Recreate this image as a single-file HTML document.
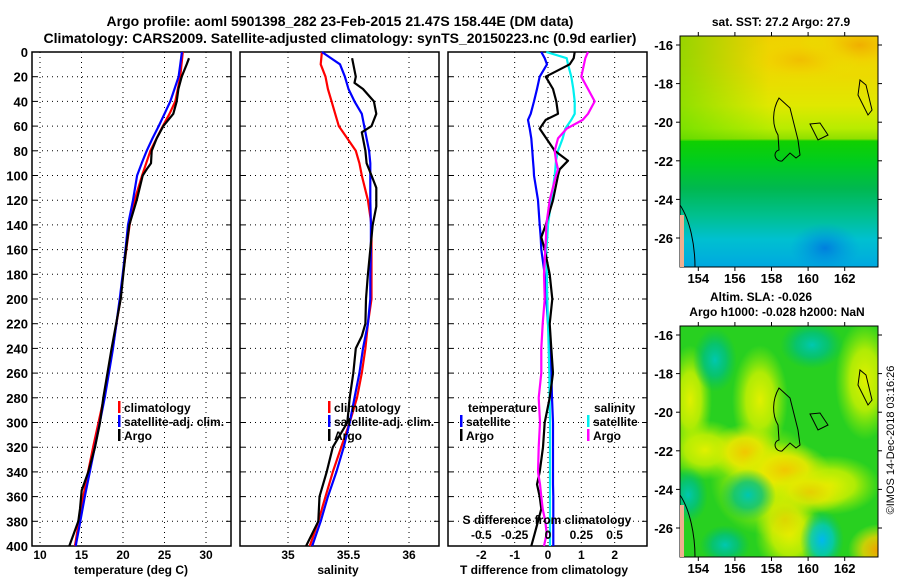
<!DOCTYPE html>
<html><head><meta charset="utf-8"><style>
html,body{margin:0;padding:0;background:#fff;}
svg{display:block;font-family:"Liberation Sans",sans-serif;font-weight:bold;}
</style></head><body>
<svg id="chart" width="900" height="580" viewBox="0 0 900 580" xmlns="http://www.w3.org/2000/svg">
<defs>
<clipPath id="clipTop"><rect x="680" y="36" width="198" height="231"/></clipPath>
<clipPath id="clipBot"><rect x="680" y="326" width="198" height="231"/></clipPath>
<linearGradient id="sstV" x1="0" y1="0" x2="0" y2="1">
<stop offset="0" stop-color="#f0d000"/><stop offset="0.12" stop-color="#f0d400"/>
<stop offset="0.3" stop-color="#e0e800"/><stop offset="0.4" stop-color="#b8ec00"/>
<stop offset="0.445" stop-color="#90e000"/><stop offset="0.455" stop-color="#10d000"/>
<stop offset="0.55" stop-color="#00cc20"/><stop offset="0.66" stop-color="#00b850"/>
<stop offset="0.78" stop-color="#00c090"/><stop offset="0.88" stop-color="#00c0d0"/>
<stop offset="1" stop-color="#00a8e0"/></linearGradient>
<linearGradient id="sstH" x1="0" y1="0" x2="1" y2="0">
<stop offset="0" stop-color="#40d800" stop-opacity="0.5"/><stop offset="0.45" stop-color="#40d800" stop-opacity="0"/></linearGradient>
<radialGradient id="gY"><stop offset="0" stop-color="#f0c800"/><stop offset="0.5" stop-color="#e8e800" stop-opacity="0.9"/><stop offset="1" stop-color="#c8f000" stop-opacity="0"/></radialGradient>
<radialGradient id="gL"><stop offset="0" stop-color="#e0f000"/><stop offset="0.5" stop-color="#c8f000" stop-opacity="0.85"/><stop offset="1" stop-color="#a0f000" stop-opacity="0"/></radialGradient>
<radialGradient id="gC"><stop offset="0" stop-color="#00c8b0"/><stop offset="0.5" stop-color="#00c080" stop-opacity="0.8"/><stop offset="1" stop-color="#00c060" stop-opacity="0"/></radialGradient>
<radialGradient id="gB"><stop offset="0" stop-color="#00b8f0"/><stop offset="0.5" stop-color="#00c8c0" stop-opacity="0.8"/><stop offset="1" stop-color="#00c070" stop-opacity="0"/></radialGradient>
<radialGradient id="gO"><stop offset="0" stop-color="#f0a000"/><stop offset="0.5" stop-color="#f0d000" stop-opacity="0.8"/><stop offset="1" stop-color="#e0f000" stop-opacity="0"/></radialGradient>
<radialGradient id="gSB"><stop offset="0" stop-color="#0070e0"/><stop offset="1" stop-color="#0090e0" stop-opacity="0"/></radialGradient>
</defs>

<text x="340" y="26" font-size="14" text-anchor="middle">Argo profile: aoml 5901398_282 23-Feb-2015 21.47S 158.44E (DM data)</text>
<text x="340" y="43" font-size="14" text-anchor="middle">Climatology: CARS2009. Satellite-adjusted climatology: synTS_20150223.nc (0.9d earlier)</text>

<g id="panels"></g>

<text x="781" y="26" font-size="12" text-anchor="middle">sat. SST: 27.2 Argo: 27.9</text>
<g clip-path="url(#clipTop)">
<rect x="680" y="36" width="198" height="231" fill="url(#sstV)"/>
<rect x="680" y="36" width="198" height="105" fill="url(#sstH)"/>
<ellipse cx="860" cy="45" rx="60" ry="30" fill="url(#gO)" opacity="0.7"/>
<ellipse cx="800" cy="60" rx="60" ry="25" fill="url(#gO)" opacity="0.4"/>
<ellipse cx="825" cy="248" rx="35" ry="25" fill="url(#gSB)" opacity="0.8"/>
</g>
<rect x="680" y="36" width="198" height="231" fill="none" stroke="#000" stroke-width="1"/>

<text x="761" y="301" font-size="12" text-anchor="middle">Altim. SLA: -0.026</text>
<text x="777" y="316" font-size="12" text-anchor="middle">Argo h1000: -0.028 h2000: NaN</text>
<g clip-path="url(#clipBot)">
<rect x="680" y="326" width="198" height="231" fill="#28d020"/>
<ellipse cx="690" cy="400" rx="22" ry="55" fill="url(#gL)"/>
<ellipse cx="760" cy="400" rx="28" ry="55" fill="url(#gL)"/>
<ellipse cx="865" cy="380" rx="30" ry="60" fill="url(#gL)"/>
<ellipse cx="705" cy="450" rx="40" ry="30" fill="url(#gL)"/>
<ellipse cx="765" cy="480" rx="55" ry="55" fill="url(#gL)"/>
<ellipse cx="790" cy="535" rx="35" ry="40" fill="url(#gL)"/>
<ellipse cx="830" cy="485" rx="50" ry="30" fill="url(#gL)"/>
<ellipse cx="745" cy="452" rx="35" ry="28" fill="url(#gY)"/>
<ellipse cx="785" cy="470" rx="45" ry="28" fill="url(#gY)"/>
<ellipse cx="810" cy="492" rx="40" ry="22" fill="url(#gY)" opacity="0.8"/>
<ellipse cx="785" cy="520" rx="30" ry="30" fill="url(#gY)" opacity="0.6"/>
<ellipse cx="878" cy="550" rx="30" ry="26" fill="url(#gO)"/>
<ellipse cx="715" cy="360" rx="22" ry="32" fill="url(#gC)"/>
<ellipse cx="812" cy="345" rx="32" ry="24" fill="url(#gC)"/>
<ellipse cx="748" cy="495" rx="28" ry="26" fill="url(#gC)"/>
<ellipse cx="688" cy="495" rx="20" ry="28" fill="url(#gC)"/>
<ellipse cx="725" cy="545" rx="25" ry="20" fill="url(#gC)"/>
<ellipse cx="822" cy="540" rx="22" ry="30" fill="url(#gB)"/>
</g>
<rect x="680" y="326" width="198" height="231" fill="none" stroke="#000" stroke-width="1"/>
<g id="mapaxes"></g>
<g fill="none" stroke="#000" stroke-width="1">
<path d="M779 98 C772 110 772 125 778 135 L779 150 C772 152 775 162 782 161 L790 153 L796 158 L800 155 L798 140 L790 108 Z"/>
<path d="M810 124 L820 123 L828 135 L818 140 Z"/>
<path d="M779 388 C772 400 772 415 778 425 L779 440 C772 442 775 452 782 451 L790 443 L796 448 L800 445 L798 430 L790 398 Z"/>
<path d="M810 414 L820 413 L828 425 L818 430 Z"/>
<path d="M680 205 C690 220 695 245 695 267"/>
<path d="M680 495 C690 510 695 535 695 557"/>
<path d="M860 80 L858 95 L868 115 L872 110 L866 85 Z"/>
<path d="M860 370 L858 385 L868 405 L872 400 L866 375 Z"/>
</g>
<rect x="680" y="505" width="4" height="52" fill="#f0b090"/>
<rect x="680" y="215" width="4" height="52" fill="#f0b090"/>
<text transform="translate(894,440) rotate(-90)" font-size="11" font-weight="normal" text-anchor="middle">©IMOS 14-Dec-2018 03:16:26</text>
</svg>
<script>
// depth levels (dbar)
const depth = [0,10,20,30,40,50,60,70,80,90,100,120,140,160,180,200,220,240,260,280,300,320,340,360,380,400];
// temperature (deg C)
const tempClim = [27.2,27.05,26.9,26.6,26.3,25.6,24.8,24.05,23.3,22.8,22.3,21.4,20.8,20.4,20.0,19.7,19.2,18.76,18.2,17.7,17.05,16.4,15.8,15.2,14.7,14.2];
const tempSat  = [27.1,26.9,26.7,26.2,25.7,25.0,24.3,23.55,22.85,22.25,21.7,21.2,20.6,20.3,19.96,19.6,19.2,18.8,18.3,17.8,17.2,16.6,16.0,15.4,14.85,14.3];
const argoDepth = [5,10,20,30,40,50,55,60,70,80,90,95,100,120,140,160,180,200,240,280,300,320,340,355,370,380,400];
const tempArgo = [27.95,27.67,27.07,26.67,26.47,26.06,25.46,24.86,24.06,23.46,23.37,22.85,22.37,21.65,20.76,20.36,20.04,19.72,18.63,17.63,17.23,16.63,15.82,15.02,14.82,14.62,13.53];
// salinity
const salClim = [35.28,35.27,35.31,35.33,35.36,35.39,35.42,35.49,35.56,35.59,35.61,35.66,35.69,35.69,35.69,35.69,35.66,35.64,35.61,35.57,35.51,35.44,35.37,35.31,35.25,35.18];
const salSat  = [35.28,35.43,35.47,35.50,35.55,35.61,35.63,35.65,35.67,35.68,35.68,35.68,35.685,35.685,35.68,35.68,35.66,35.62,35.59,35.55,35.51,35.46,35.40,35.33,35.27,35.20];
const sArgoDepth = [5,20,25,30,40,50,60,65,70,80,90,100,110,125,140,160,180,200,220,230,240,260,280,300,320,340,360,380,400];
const salArgo = [35.53,35.56,35.55,35.62,35.71,35.73,35.69,35.61,35.62,35.64,35.65,35.69,35.73,35.73,35.70,35.68,35.66,35.645,35.64,35.61,35.56,35.54,35.51,35.49,35.37,35.32,35.26,35.25,35.15];
// differences from climatology
const dDepth = [0,5,10,20,30,40,50,55,62,70,80,88,95,100,120,140,150,160,180,200,220,240,260,280,300,320,340,350,360,370,380,390,400];
const tDiffSat = [-0.2,-0.1,-0.03,-0.25,-0.33,-0.42,-0.52,-0.6,-0.55,-0.5,-0.47,-0.45,-0.43,-0.42,-0.3,-0.25,-0.22,-0.2,-0.1,-0.05,0.0,0.05,0.1,0.12,0.15,0.15,0.15,0.15,0.16,0.16,0.16,0.16,0.16];
const tDiffArgo = [0.8,0.77,0.65,-0.07,0.15,0.25,0.3,-0.07,-0.25,-0.05,0.2,0.6,0.35,0.3,0.15,-0.07,-0.2,-0.1,0.05,0.13,0.05,0.1,0.15,0.05,-0.1,-0.15,-0.25,-0.33,-0.25,-0.2,-0.3,-0.4,-0.5];
const sDiffSat = [-0.013,0.14,0.15,0.175,0.19,0.2,0.2,0.175,0.13,0.11,0.075,0.06,0.055,0.05,0.025,0.0,-0.005,-0.013,-0.008,-0.005,0.0,0.005,0.01,0.012,0.015,0.015,0.015,0.015,0.015,0.015,0.015,0.015,0.015];
const sDiffArgo = [0.3,0.28,0.27,0.25,0.3,0.35,0.3,0.26,0.14,0.075,0.05,0.06,0.075,0.06,0.013,-0.013,-0.015,-0.02,-0.03,-0.025,-0.04,-0.05,-0.05,-0.07,-0.06,-0.07,-0.075,-0.06,-0.05,-0.04,-0.02,-0.01,-0.03];
// tick labels
const depthTicks = [0,20,40,60,80,100,120,140,160,180,200,220,240,260,280,300,320,340,360,380,400];
const tempTicks = [10,15,20,25,30];
const salTicks = [35,35.5,36];
const tDiffTicks = [-2,-1,0,1,2];
const sDiffTicks = [-0.5,-0.25,0,0.25,0.5];
const sDiffTickLabels = ['-0.5','-0.25','0','0.25','0.5'];
const lonTicks = [154,156,158,160,162];
const latTicks = [-16,-18,-20,-22,-24,-26];

const NS='http://www.w3.org/2000/svg';
const root=document.getElementById('panels');
const Y0=52, Y1=546;
const yD = d => Y0 + d*(Y1-Y0)/400;
const xT = t => 40 + (t-10)*8.3;
const xS = s => 288 + (s-35)*121;
const xTd = v => 548 + v*33.33;
const xSd = v => 548 + v*133.3;
function mk(tag, attrs, parent){const e=document.createElementNS(NS,tag);for(const k in attrs)e.setAttribute(k,attrs[k]);(parent||root).appendChild(e);return e;}
function txt(x,y,s,anchor,size,parent){const e=mk('text',{x:x,y:y,'font-size':size||12,'text-anchor':anchor||'start'},parent);e.textContent=s;return e;}
function line(xs,ys,color,name){
  const pts=xs.map((x,i)=>x.toFixed(1)+','+ys[i].toFixed(1)).join(' ');
  const e=mk('polyline',{points:pts,fill:'none',stroke:color,'stroke-width':2.2,'stroke-linejoin':'round'});
  
  
}
function panel(x0,x1,name,xt,xf,xlabels){
  const g=mk('g',{});
  
  
  depthTicks.forEach(d=>{ if(d>0&&d<400) mk('line',{x1:x0,x2:x1,y1:yD(d),y2:yD(d),stroke:'#000','stroke-width':1,'stroke-dasharray':'1,4'},g);
    mk('line',{x1:x0,x2:x0+5,y1:yD(d),y2:yD(d),stroke:'#000'},g); mk('line',{x1:x1-5,x2:x1,y1:yD(d),y2:yD(d),stroke:'#000'},g);});
  xt.forEach((v,i)=>{const x=xf(v); mk('line',{x1:x,x2:x,y1:Y0,y2:Y1,stroke:'#000','stroke-width':1,'stroke-dasharray':'1,4'},g);
    if(xlabels){const t=txt(x,559,xlabels[i],'middle',12,g);  }});
  const r=mk('rect',{x:x0,y:Y0,width:x1-x0,height:Y1-Y0,fill:'none',stroke:'#000','stroke-width':1.5},g);
  
  
  return g;
}
panel(32,231,'temperature-panel',tempTicks,xT,tempTicks.map(String));
depthTicks.forEach(d=>{const t=txt(28,yD(d)+5,String(d),'end',13);

});
const xl1=txt(131,574,'temperature (deg C)','middle',12);


line(tempClim.map(xT),depth.map(yD),'#f00','temp-climatology-line');
line(tempSat.map(xT),depth.map(yD),'#00f','temp-satellite-line');
line(tempArgo.map(xT),argoDepth.map(yD),'#000','temp-argo-line');
panel(240,439,'salinity-panel',salTicks,xS,['35','35.5','36']);
const xl2=txt(338,574,'salinity','middle',12);


line(salClim.map(xS),depth.map(yD),'#f00','sal-climatology-line');
line(salSat.map(xS),depth.map(yD),'#00f','sal-satellite-line');
line(salArgo.map(xS),sArgoDepth.map(yD),'#000','sal-argo-line');
panel(448,647,'difference-panel',tDiffTicks,xTd,tDiffTicks.map(String));
const xl3=txt(544,574,'T difference from climatology','middle',12);


line(tDiffSat.map(xTd),dDepth.map(yD),'#00f','tdiff-satellite-line');
line(sDiffSat.map(xSd),dDepth.map(yD),'#00f0f0','sdiff-satellite-line');
line(tDiffArgo.map(xTd),dDepth.map(yD),'#000','tdiff-argo-line');
line(sDiffArgo.map(xSd),dDepth.map(yD),'#f0f','sdiff-argo-line');
const st=txt(547,524,'S difference from climatology','middle',12);


sDiffTicks.forEach((v,i)=>{const t=txt(xSd(v),539,sDiffTickLabels[i],'middle',12);

});
function legend(x,y,color,label,name){
  const m=mk('rect',{x:x,y:y-11,width:2.5,height:12,fill:color});
  
  
  const t=txt(x+6,y,label,'start',12);
  
  
}
legend(118,412,'#f00','climatology','legend-climatology');
legend(118,426,'#00f','satellite-adj. clim.','legend-satellite-adj');
legend(118,440,'#000','Argo','legend-argo');
legend(328,412,'#f00','climatology','legend2-climatology');
legend(328,426,'#00f','satellite-adj. clim.','legend2-satellite-adj');
legend(328,440,'#000','Argo','legend2-argo');
const lt=txt(468,412,'temperature','start',12);


legend(460,426,'#00f','satellite','legend-t-satellite');
legend(460,440,'#000','Argo','legend-t-argo');
const ls=txt(594,412,'salinity','start',12);


legend(587,426,'#00f0f0','satellite','legend-s-satellite');
legend(587,440,'#f0f','Argo','legend-s-argo');
const ma=document.getElementById('mapaxes');
const xLon = l => 680 + (l-153)*18.3;
[[36,45,267],[326,335,557]].forEach(([top,y16,bot])=>{
  lonTicks.forEach(l=>{const x=xLon(l);
    mk('line',{x1:x,x2:x,y1:top-4,y2:top,stroke:'#000'},ma);
    mk('line',{x1:x,x2:x,y1:bot,y2:bot+4,stroke:'#000'},ma);
    const t=txt(x,bot+16,String(l),'middle',13,ma);
    
    });
  latTicks.forEach(la=>{const y=y16+(-16-la)*19.3;
    mk('line',{x1:676,x2:680,y1:y,y2:y,stroke:'#000'},ma);
    mk('line',{x1:878,x2:882,y1:y,y2:y,stroke:'#000'},ma);
    const t=txt(673,y+5,String(la),'end',13,ma);
    
    });
});
</script>
</body></html>
